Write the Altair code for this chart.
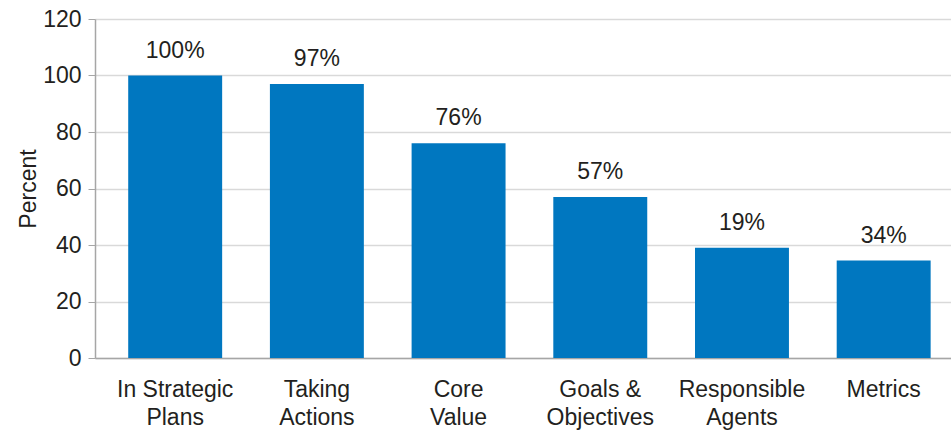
import altair as alt
import pandas as pd

categories = ["In Strategic\nPlans", "Taking\nActions", "Core\nValue", "Goals &\nObjectives", "Responsible\nAgents", "Metrics"]
values = [100, 97, 76, 57, 39, 34.5]
labels = ["100%", "97%", "76%", "57%", "19%", "34%"]

df = pd.DataFrame({"cat": categories, "val": values, "lab": labels})

FONT = "Liberation Sans"
TXT = "#231f20"
FS = 23

x = alt.X(
    "cat:N",
    sort=categories,
    title=None,
    scale=alt.Scale(paddingInner=0.337, paddingOuter=0.189, align=0.62),
    axis=alt.Axis(
        labelAngle=0,
        labelExpr="split(datum.label, '\\n')",
        labelFont=FONT,
        labelFontSize=FS,
        labelColor=TXT,
        labelLineHeight=28,
        labelPadding=20,
        ticks=False,
        domainColor="#a6a6a6",
        domainWidth=1.5,
    ),
)

y = alt.Y(
    "val:Q",
    title="Percent",
    scale=alt.Scale(domain=[0, 120], nice=False),
    axis=alt.Axis(
        values=[0, 20, 40, 60, 80, 100, 120],
        labelFont=FONT,
        labelFontSize=FS,
        labelColor=TXT,
        labelPadding=7,
        tickSize=7,
        tickColor="#a6a6a6",
        domainColor="#a6a6a6",
        domainWidth=1.5,
        gridColor="#d9d9d9",
        gridWidth=1.5,
        titleFont=FONT,
        titleFontSize=FS,
        titleFontWeight="normal",
        titleColor=TXT,
        titlePadding=2,
    ),
)

bars = alt.Chart(df).mark_bar(color="#0077c0").encode(x=x, y=y)

text = alt.Chart(df).mark_text(
    font=FONT, fontSize=FS, color=TXT, baseline="alphabetic", dy=-18
).encode(x=alt.X("cat:N", sort=categories), y=alt.Y("val:Q"), text="lab:N")

chart = (
    alt.layer(bars, text)
    .properties(
        width=856,
        height=339,
        autosize=alt.AutoSizeParams(type="none"),
        padding={"left": 95, "top": 19, "right": 0, "bottom": 74},
    )
    .configure_view(stroke=None)
)

chart.save("out.html", embed_options={"renderer": "svg", "actions": False})
